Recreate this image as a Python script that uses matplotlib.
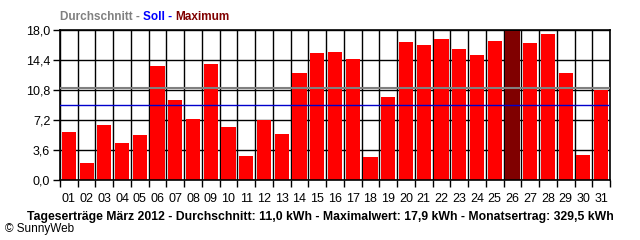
import numpy as np
import matplotlib
matplotlib.use('Agg')
import matplotlib.pyplot as plt

# Tageserträge März 2012 (kWh)
tage = ['%02d' % d for d in range(1, 32)]
ertrag = [5.8, 2.0, 6.6, 4.4, 5.4, 13.7, 9.6, 7.3, 13.9, 6.4,
          2.9, 7.2, 5.5, 12.8, 15.2, 15.4, 14.5, 2.8, 10.0, 16.6,
          16.2, 16.9, 15.7, 15.0, 16.7, 17.9, 16.4, 17.5, 12.8, 3.0,
          10.8]
durchschnitt = 11.0
soll = 9.0
y_ticks = [0.0, 3.6, 7.2, 10.8, 14.4, 18.0]
titel = 'Tageserträge März 2012 - Durchschnitt: 11,0 kWh - Maximalwert: 17,9 kWh - Monatsertrag: 329,5 kWh'

W, H = 640, 240
fig = plt.figure(figsize=(W / 100, H / 100), dpi=100)
ax = fig.add_axes([60 / W, 1 - 180 / H, 550 / W, 150 / H])

x = np.arange(len(ertrag))
imax = int(np.argmax(ertrag))
farben = ['#800000' if i == imax else '#ff0000' for i in x]
ax.bar(x, ertrag, width=0.8, color=farben, zorder=2)

# Durchschnitt und Soll
ax.axhline(durchschnitt, color='#808080', lw=1.5, zorder=3)
ax.axhline(soll, color='#0000cc', lw=1.0, zorder=3)

ax.set_xlim(-0.5, len(ertrag) - 0.5)
ax.set_ylim(0, 18)
ax.set_xticks(x)
ax.set_xticklabels(tage)
ax.set_xticks(np.arange(len(ertrag) + 1) - 0.5, minor=True)
ax.set_yticks(y_ticks)
ax.set_yticklabels([('%.1f' % v).replace('.', ',') for v in y_ticks])
ax.tick_params(axis='x', which='major', length=0, pad=9, labelsize=9)
ax.tick_params(axis='x', which='minor', length=5, width=1, direction='out')
ax.tick_params(axis='y', length=5, width=1, direction='out', labelsize=9, pad=2)
ax.grid(axis='x', which='minor', color='black', lw=1, zorder=1)
ax.grid(axis='y', which='major', color='black', lw=1, zorder=1)
ax.set_axisbelow(True)
for s in ax.spines.values():
    s.set_linewidth(1.2)
for lab in ax.get_xticklabels() + ax.get_yticklabels():
    lab.set_fontfamily('Liberation Sans')

# Legende oben
fig.canvas.draw()
r = fig.canvas.get_renderer()
xp = 60
for txt, c in [('Durchschnitt - ', '#808080'), ('Soll - ', '#0000ff'), ('Maximum', '#800000')]:
    t = fig.text(xp / W, 1 - 17 / H, txt, color=c, fontsize=8.5, fontweight='bold',
                 family='Liberation Sans', va='center', ha='left')
    xp += t.get_window_extent(r).width

fig.text(320 / W, 1 - 217 / H, titel, fontsize=8.8, fontweight='bold',
         family='Liberation Sans', ha='center', va='center')
fig.text(5 / W, 1 - 229 / H, '© SunnyWeb', fontsize=8.5, family='Liberation Sans',
         ha='left', va='center')

fig.savefig('out.png', dpi=100)
